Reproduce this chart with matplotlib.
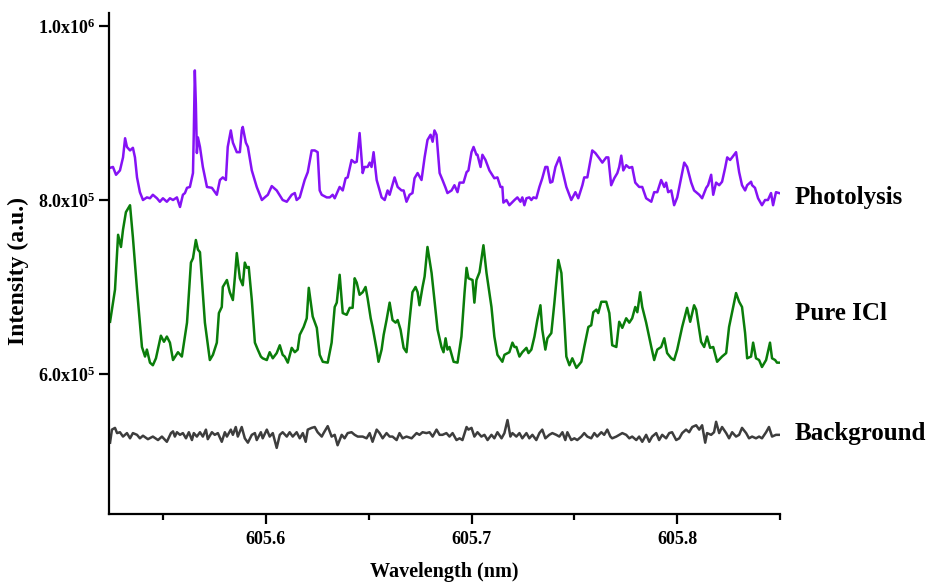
import numpy as np
import matplotlib
matplotlib.use("Agg")
import matplotlib.pyplot as plt

plt.rcParams["font.family"] = ["Liberation Serif", "DejaVu Serif"]
plt.rcParams["font.weight"] = "bold"
plt.rcParams["mathtext.fontset"] = "custom"
plt.rcParams["mathtext.rm"] = "Liberation Serif:bold"
plt.rcParams["mathtext.it"] = "Liberation Serif:bold"
plt.rcParams["mathtext.bf"] = "Liberation Serif:bold"

# (wavelength nm, intensity in 1e5 a.u.)
photolysis = [
    (605.5243, 8.37), (605.5257, 8.38), (605.5272, 8.29), (605.5291, 8.34), (605.5306, 8.49),
    (605.5316, 8.71), (605.5325, 8.61), (605.5340, 8.57), (605.5354, 8.60), (605.5364, 8.49),
    (605.5374, 8.26), (605.5388, 8.09), (605.5403, 8.00), (605.5422, 8.03), (605.5437, 8.02),
    (605.5451, 8.06), (605.5471, 8.02), (605.5485, 7.98), (605.5500, 8.02), (605.5519, 7.98),
    (605.5534, 8.02), (605.5549, 8.00), (605.5568, 8.03), (605.5583, 7.92), (605.5597, 8.06),
    (605.5607, 8.08), (605.5617, 8.14), (605.5631, 8.15), (605.5646, 8.31), (605.5650, 8.77),
    (605.5655, 9.49), (605.5660, 9.11), (605.5665, 8.54), (605.5670, 8.72), (605.5680, 8.61),
    (605.5694, 8.38), (605.5714, 8.15), (605.5738, 8.14), (605.5762, 8.06), (605.5777, 8.23),
    (605.5791, 8.26), (605.5806, 8.23), (605.5815, 8.61), (605.5830, 8.80), (605.5840, 8.66),
    (605.5859, 8.55), (605.5874, 8.55), (605.5883, 8.80), (605.5888, 8.84), (605.5903, 8.66),
    (605.5913, 8.61), (605.5932, 8.34), (605.5956, 8.15), (605.5981, 8.00), (605.5995, 8.03),
    (605.6010, 8.06), (605.6029, 8.16), (605.6053, 8.11), (605.6082, 8.00), (605.6102, 7.98),
    (605.6126, 8.06), (605.6141, 8.08), (605.6150, 8.00), (605.6165, 8.03), (605.6189, 8.23),
    (605.6204, 8.32), (605.6223, 8.57), (605.6238, 8.57), (605.6252, 8.55), (605.6262, 8.11),
    (605.6272, 8.06), (605.6296, 8.03), (605.6311, 8.03), (605.6325, 8.06), (605.6335, 8.02),
    (605.6359, 8.15), (605.6374, 8.11), (605.6388, 8.25), (605.6398, 8.26), (605.6417, 8.46),
    (605.6432, 8.43), (605.6442, 8.44), (605.6456, 8.77), (605.6471, 8.31), (605.6480, 8.38),
    (605.6495, 8.38), (605.6505, 8.43), (605.6514, 8.38), (605.6524, 8.55), (605.6539, 8.23),
    (605.6563, 8.03), (605.6578, 8.00), (605.6592, 8.11), (605.6602, 8.06), (605.6626, 8.26),
    (605.6641, 8.15), (605.6660, 8.11), (605.6670, 8.11), (605.6684, 7.98), (605.6699, 8.06),
    (605.6713, 8.08), (605.6723, 8.25), (605.6738, 8.31), (605.6757, 8.23), (605.6772, 8.49),
    (605.6786, 8.69), (605.6801, 8.75), (605.6811, 8.67), (605.6820, 8.80), (605.6830, 8.75),
    (605.6845, 8.31), (605.6859, 8.23), (605.6874, 8.14), (605.6883, 8.08), (605.6903, 8.11),
    (605.6917, 8.17), (605.6932, 8.09), (605.6942, 8.20), (605.6961, 8.20), (605.6976, 8.32),
    (605.6985, 8.34), (605.7000, 8.55), (605.7010, 8.61), (605.7024, 8.52), (605.7029, 8.52),
    (605.7044, 8.38), (605.7053, 8.52), (605.7068, 8.46), (605.7087, 8.34), (605.7111, 8.25),
    (605.7126, 8.26), (605.7141, 8.15), (605.7150, 8.15), (605.7155, 7.97), (605.7170, 8.00),
    (605.7184, 7.94), (605.7209, 8.00), (605.7223, 8.03), (605.7238, 7.98), (605.7247, 8.03),
    (605.7257, 7.94), (605.7267, 8.02), (605.7281, 8.03), (605.7291, 8.00), (605.7301, 8.03),
    (605.7315, 8.02), (605.7330, 8.15), (605.7344, 8.25), (605.7359, 8.38), (605.7369, 8.38),
    (605.7383, 8.20), (605.7393, 8.21), (605.7408, 8.38), (605.7427, 8.49), (605.7442, 8.34),
    (605.7461, 8.15), (605.7485, 8.00), (605.7505, 8.09), (605.7519, 8.02), (605.7539, 8.17),
    (605.7548, 8.26), (605.7563, 8.26), (605.7587, 8.57), (605.7602, 8.54), (605.7621, 8.48),
    (605.7636, 8.43), (605.7655, 8.49), (605.7665, 8.49), (605.7679, 8.17), (605.7694, 8.25),
    (605.7709, 8.31), (605.7718, 8.38), (605.7728, 8.51), (605.7738, 8.34), (605.7752, 8.40),
    (605.7767, 8.37), (605.7781, 8.38), (605.7796, 8.20), (605.7815, 8.15), (605.7830, 8.15),
    (605.7849, 8.02), (605.7874, 7.98), (605.7888, 8.09), (605.7903, 8.09), (605.7922, 8.23),
    (605.7937, 8.15), (605.7946, 8.20), (605.7956, 8.09), (605.7971, 8.11), (605.7985, 7.94),
    (605.8000, 8.03), (605.8019, 8.25), (605.8034, 8.43), (605.8048, 8.38), (605.8068, 8.20),
    (605.8082, 8.11), (605.8107, 8.06), (605.8121, 8.02), (605.8141, 8.14), (605.8150, 8.17),
    (605.8165, 8.29), (605.8175, 8.06), (605.8189, 8.20), (605.8204, 8.17), (605.8218, 8.21),
    (605.8233, 8.37), (605.8243, 8.49), (605.8257, 8.46), (605.8267, 8.49), (605.8286, 8.55),
    (605.8301, 8.32), (605.8315, 8.17), (605.8330, 8.11), (605.8340, 8.17), (605.8359, 8.21),
    (605.8364, 8.17), (605.8378, 8.14), (605.8393, 8.02), (605.8412, 7.94), (605.8427, 8.00),
    (605.8441, 8.00), (605.8456, 8.08), (605.8466, 7.94), (605.8480, 8.09), (605.8495, 8.08),
]

pure_icl = [
    (605.5243, 6.60), (605.5267, 6.97), (605.5282, 7.60), (605.5296, 7.46), (605.5306, 7.66),
    (605.5320, 7.86), (605.5340, 7.94), (605.5354, 7.57), (605.5374, 6.97), (605.5398, 6.31),
    (605.5413, 6.20), (605.5422, 6.28), (605.5437, 6.13), (605.5451, 6.10), (605.5466, 6.18),
    (605.5490, 6.44), (605.5505, 6.37), (605.5519, 6.43), (605.5534, 6.36), (605.5549, 6.16),
    (605.5573, 6.25), (605.5592, 6.20), (605.5617, 6.59), (605.5636, 7.28), (605.5646, 7.33),
    (605.5660, 7.54), (605.5670, 7.43), (605.5680, 7.40), (605.5704, 6.59), (605.5728, 6.16),
    (605.5743, 6.22), (605.5762, 6.36), (605.5772, 6.70), (605.5786, 6.77), (605.5791, 7.00),
    (605.5811, 7.08), (605.5825, 6.94), (605.5840, 6.85), (605.5850, 7.12), (605.5859, 7.39),
    (605.5874, 7.10), (605.5888, 7.02), (605.5898, 7.28), (605.5908, 7.22), (605.5917, 7.23),
    (605.5932, 6.85), (605.5947, 6.36), (605.5961, 6.28), (605.5976, 6.20), (605.5985, 6.18),
    (605.6005, 6.16), (605.6019, 6.25), (605.6034, 6.18), (605.6053, 6.24), (605.6068, 6.33),
    (605.6082, 6.22), (605.6092, 6.20), (605.6107, 6.13), (605.6126, 6.30), (605.6141, 6.25),
    (605.6155, 6.28), (605.6165, 6.45), (605.6184, 6.54), (605.6199, 6.64), (605.6209, 6.99),
    (605.6228, 6.66), (605.6248, 6.53), (605.6262, 6.22), (605.6277, 6.14), (605.6301, 6.13),
    (605.6320, 6.36), (605.6335, 6.77), (605.6345, 6.82), (605.6359, 7.14), (605.6374, 6.70),
    (605.6393, 6.68), (605.6408, 6.76), (605.6422, 6.76), (605.6432, 7.10), (605.6442, 7.05),
    (605.6456, 6.91), (605.6471, 6.94), (605.6485, 7.00), (605.6495, 6.87), (605.6510, 6.64),
    (605.6519, 6.54), (605.6539, 6.28), (605.6548, 6.14), (605.6563, 6.28), (605.6573, 6.45),
    (605.6587, 6.62), (605.6602, 6.82), (605.6616, 6.62), (605.6631, 6.59), (605.6641, 6.62),
    (605.6655, 6.51), (605.6670, 6.30), (605.6684, 6.25), (605.6699, 6.62), (605.6713, 6.94),
    (605.6728, 7.00), (605.6738, 6.94), (605.6747, 6.79), (605.6762, 7.00), (605.6772, 7.12),
    (605.6786, 7.46), (605.6806, 7.16), (605.6820, 6.85), (605.6835, 6.51), (605.6854, 6.31),
    (605.6864, 6.25), (605.6874, 6.41), (605.6883, 6.28), (605.6893, 6.31), (605.6913, 6.14),
    (605.6932, 6.13), (605.6951, 6.43), (605.6966, 6.93), (605.6976, 7.22), (605.6985, 7.10),
    (605.7005, 7.08), (605.7014, 6.82), (605.7024, 7.08), (605.7039, 7.17), (605.7058, 7.48),
    (605.7073, 7.16), (605.7097, 6.77), (605.7111, 6.43), (605.7126, 6.22), (605.7150, 6.14),
    (605.7160, 6.22), (605.7184, 6.25), (605.7199, 6.36), (605.7209, 6.31), (605.7218, 6.31),
    (605.7233, 6.20), (605.7247, 6.25), (605.7267, 6.30), (605.7277, 6.24), (605.7291, 6.28),
    (605.7306, 6.43), (605.7320, 6.62), (605.7335, 6.79), (605.7344, 6.51), (605.7359, 6.28),
    (605.7369, 6.41), (605.7388, 6.47), (605.7403, 6.82), (605.7422, 7.31), (605.7437, 7.16),
    (605.7451, 6.62), (605.7461, 6.20), (605.7476, 6.10), (605.7490, 6.18), (605.7510, 6.07),
    (605.7534, 6.14), (605.7548, 6.31), (605.7568, 6.54), (605.7582, 6.56), (605.7592, 6.71),
    (605.7607, 6.74), (605.7616, 6.70), (605.7631, 6.83), (605.7655, 6.83), (605.7670, 6.70),
    (605.7684, 6.33), (605.7704, 6.31), (605.7718, 6.60), (605.7733, 6.53), (605.7752, 6.64),
    (605.7767, 6.59), (605.7781, 6.64), (605.7796, 6.77), (605.7806, 6.71), (605.7820, 6.94),
    (605.7830, 6.77), (605.7849, 6.59), (605.7874, 6.31), (605.7888, 6.16), (605.7903, 6.28),
    (605.7922, 6.31), (605.7937, 6.41), (605.7951, 6.24), (605.7971, 6.18), (605.7985, 6.16),
    (605.8000, 6.28), (605.8024, 6.54), (605.8048, 6.76), (605.8063, 6.60), (605.8082, 6.79),
    (605.8092, 6.74), (605.8116, 6.37), (605.8131, 6.31), (605.8145, 6.43), (605.8160, 6.30),
    (605.8175, 6.31), (605.8194, 6.14), (605.8218, 6.20), (605.8238, 6.24), (605.8252, 6.54),
    (605.8267, 6.71), (605.8286, 6.93), (605.8301, 6.83), (605.8315, 6.77), (605.8330, 6.47),
    (605.8340, 6.18), (605.8359, 6.20), (605.8369, 6.36), (605.8383, 6.18), (605.8398, 6.16),
    (605.8412, 6.08), (605.8432, 6.16), (605.8451, 6.36), (605.8461, 6.18), (605.8476, 6.16),
    (605.8485, 6.13), (605.8495, 6.13),
]

background = [
    (605.5243, 5.21), (605.5252, 5.36), (605.5267, 5.38), (605.5277, 5.32), (605.5291, 5.33),
    (605.5306, 5.28), (605.5325, 5.32), (605.5340, 5.26), (605.5354, 5.32), (605.5374, 5.30),
    (605.5388, 5.26), (605.5403, 5.29), (605.5427, 5.25), (605.5451, 5.28), (605.5476, 5.24),
    (605.5495, 5.28), (605.5519, 5.22), (605.5539, 5.32), (605.5549, 5.34), (605.5558, 5.28),
    (605.5568, 5.33), (605.5583, 5.30), (605.5597, 5.32), (605.5612, 5.26), (605.5626, 5.33),
    (605.5641, 5.24), (605.5650, 5.32), (605.5665, 5.28), (605.5680, 5.33), (605.5694, 5.28),
    (605.5709, 5.36), (605.5718, 5.25), (605.5738, 5.33), (605.5752, 5.30), (605.5767, 5.32),
    (605.5786, 5.22), (605.5801, 5.33), (605.5811, 5.28), (605.5830, 5.36), (605.5840, 5.30),
    (605.5854, 5.39), (605.5864, 5.28), (605.5883, 5.39), (605.5898, 5.26), (605.5913, 5.21),
    (605.5932, 5.30), (605.5947, 5.32), (605.5956, 5.24), (605.5976, 5.33), (605.5985, 5.26),
    (605.6005, 5.36), (605.6019, 5.28), (605.6034, 5.32), (605.6053, 5.15), (605.6068, 5.30),
    (605.6082, 5.33), (605.6102, 5.28), (605.6116, 5.33), (605.6131, 5.28), (605.6150, 5.33),
    (605.6165, 5.26), (605.6180, 5.32), (605.6194, 5.22), (605.6204, 5.36), (605.6223, 5.38),
    (605.6238, 5.39), (605.6252, 5.33), (605.6272, 5.28), (605.6281, 5.32), (605.6301, 5.40),
    (605.6320, 5.28), (605.6335, 5.30), (605.6349, 5.18), (605.6369, 5.30), (605.6383, 5.26),
    (605.6398, 5.32), (605.6417, 5.33), (605.6432, 5.30), (605.6447, 5.28), (605.6471, 5.28),
    (605.6490, 5.26), (605.6505, 5.32), (605.6519, 5.22), (605.6539, 5.36), (605.6553, 5.32),
    (605.6568, 5.26), (605.6587, 5.32), (605.6602, 5.28), (605.6616, 5.28), (605.6636, 5.24),
    (605.6650, 5.32), (605.6665, 5.26), (605.6684, 5.28), (605.6709, 5.26), (605.6733, 5.32),
    (605.6747, 5.30), (605.6762, 5.33), (605.6781, 5.32), (605.6796, 5.33), (605.6811, 5.28),
    (605.6830, 5.36), (605.6845, 5.30), (605.6859, 5.30), (605.6878, 5.32), (605.6893, 5.28),
    (605.6908, 5.32), (605.6927, 5.24), (605.6942, 5.26), (605.6956, 5.24), (605.6976, 5.39),
    (605.6985, 5.36), (605.7000, 5.38), (605.7014, 5.28), (605.7029, 5.33), (605.7048, 5.28),
    (605.7063, 5.30), (605.7078, 5.24), (605.7097, 5.30), (605.7111, 5.26), (605.7126, 5.33),
    (605.7146, 5.26), (605.7160, 5.32), (605.7175, 5.47), (605.7189, 5.28), (605.7199, 5.32),
    (605.7218, 5.28), (605.7233, 5.32), (605.7247, 5.26), (605.7267, 5.32), (605.7281, 5.26),
    (605.7296, 5.30), (605.7315, 5.24), (605.7330, 5.32), (605.7344, 5.36), (605.7359, 5.26),
    (605.7378, 5.30), (605.7393, 5.32), (605.7412, 5.30), (605.7427, 5.28), (605.7442, 5.33),
    (605.7456, 5.24), (605.7466, 5.33), (605.7485, 5.24), (605.7500, 5.26), (605.7514, 5.24),
    (605.7534, 5.28), (605.7548, 5.32), (605.7563, 5.28), (605.7582, 5.26), (605.7597, 5.32),
    (605.7611, 5.28), (605.7631, 5.33), (605.7645, 5.30), (605.7660, 5.36), (605.7675, 5.28),
    (605.7684, 5.26), (605.7704, 5.28), (605.7718, 5.30), (605.7733, 5.32), (605.7752, 5.30),
    (605.7767, 5.26), (605.7781, 5.28), (605.7801, 5.24), (605.7815, 5.28), (605.7830, 5.22),
    (605.7849, 5.30), (605.7864, 5.22), (605.7878, 5.28), (605.7898, 5.32), (605.7912, 5.24),
    (605.7927, 5.30), (605.7946, 5.26), (605.7961, 5.32), (605.7975, 5.33), (605.7995, 5.24),
    (605.8010, 5.26), (605.8024, 5.32), (605.8043, 5.36), (605.8058, 5.33), (605.8073, 5.39),
    (605.8092, 5.41), (605.8107, 5.36), (605.8121, 5.41), (605.8136, 5.21), (605.8145, 5.32),
    (605.8165, 5.30), (605.8179, 5.33), (605.8189, 5.45), (605.8204, 5.32), (605.8218, 5.39),
    (605.8238, 5.32), (605.8252, 5.26), (605.8267, 5.33), (605.8286, 5.28), (605.8301, 5.30),
    (605.8315, 5.38), (605.8335, 5.32), (605.8349, 5.26), (605.8364, 5.28), (605.8383, 5.26),
    (605.8398, 5.28), (605.8412, 5.26), (605.8432, 5.33), (605.8446, 5.39), (605.8461, 5.28),
    (605.8480, 5.30), (605.8495, 5.30),
]

names = ["Photolysis", "Pure ICl", "Background"]
colors = ["#8512f5", "#0a7d0a", "#3d3d3d"]
label_y = [8.03, 6.70, 5.31]  # where each name sits, 1e5 a.u.

y_ticks = [6.0e5, 8.0e5, 1.0e6]
y_ticklabels = [r"6.0x10$^{5}$", r"8.0x10$^{5}$", r"1.0x10$^{6}$"]
x_ticks = [605.6, 605.7, 605.8]

fig = plt.figure(figsize=(9.28, 5.86), dpi=100)
ax = fig.add_axes([0.1175, 0.1229, 0.7231, 0.8549])

for data, c in zip([photolysis, pure_icl, background], colors):
    wl, inten = np.array(data).T
    ax.plot(wl, inten * 1e5, color=c, lw=1.8, solid_joinstyle="round")

ax.set_xlim(605.5238, 605.85)
ax.set_ylim(4.39e5, 10.15e5)

for s in ["top", "right"]:
    ax.spines[s].set_visible(False)
for s in ["left", "bottom"]:
    ax.spines[s].set_linewidth(1.6)

ax.set_xticks(x_ticks)
ax.set_xticklabels([f"{v:.1f}" for v in x_ticks])
ax.set_xticks([605.55, 605.65, 605.75, 605.85], minor=True)
ax.set_yticks(y_ticks)
ax.set_yticklabels(y_ticklabels)
ax.tick_params(axis="both", which="major", direction="out", length=7, width=1.6,
               labelsize=13, pad=3)
ax.tick_params(axis="x", which="minor", direction="out", length=4, width=1.6)
ax.tick_params(axis="x", which="major", pad=5)

ax.set_xlabel("Wavelength (nm)", fontsize=14.5, fontweight="bold")
ax.xaxis.set_label_coords(0.5, -0.095)
ax.set_ylabel("Intensity (a.u.)", fontsize=17, fontweight="bold")
ax.yaxis.set_label_coords(-0.119, 0.485)

for name, yv in zip(names, label_y):
    ax.text(1.022, yv * 1e5, name, transform=ax.get_yaxis_transform(),
            ha="left", va="center", fontsize=18, fontweight="bold", clip_on=False)

fig.savefig("out.png", dpi=100)
